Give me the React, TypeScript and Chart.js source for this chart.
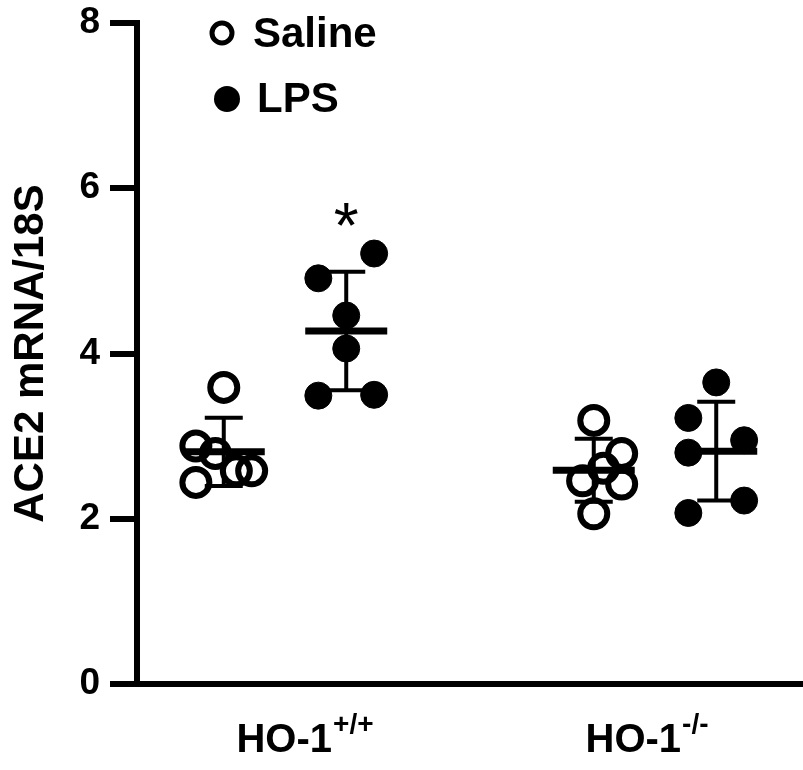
import React, { useEffect, useRef } from "react";
import { Chart, registerables } from "chart.js";

Chart.register(...registerables);

// ---- data ----
const groupNames = ["HO-1", "HO-1"];
const groupSuperscripts = ["+/+", "-/-"];
const seriesNames = ["Saline", "LPS"];
const salineValues = [
  [3.59, 2.88, 2.79, 2.58, 2.58, 2.44],
  [3.19, 2.79, 2.61, 2.46, 2.42, 2.06],
];
const lpsValues = [
  [5.21, 4.91, 4.46, 4.06, 3.49, 3.5],
  [3.65, 3.22, 2.95, 2.8, 2.22, 2.07],
];
// scatter column of each point (-1 left, 0 centre, 1 right)
const salineJitter = [
  [0, -1, -0.3, 0.45, 1, -1],
  [0, 1, 0.35, -0.4, 1, 0],
];
const lpsJitter = [
  [1, -1, 0, 0, -1, 1],
  [0, -1, 1, -1, 1, -1],
];
const yTicks = [0, 2, 4, 6, 8];
const yTitle = "ACE2 mRNA/18S";
const significance = [{ group: 0, series: 1, label: "*", y: 5.73 }];

const FONT = 'Arial, "Liberation Sans", Helvetica, sans-serif';
const SERIES_OFFSET = [-0.1655, 0.1655];
const JITTER_UNIT = 0.0754;

const allValues = [salineValues, lpsValues];
const allJitter = [salineJitter, lpsJitter];

function mean(a: number[]) {
  return a.reduce((s, v) => s + v, 0) / a.length;
}
function sd(a: number[]) {
  const m = mean(a);
  return Math.sqrt(a.reduce((s, v) => s + (v - m) * (v - m), 0) / (a.length - 1));
}

function points(s: number) {
  return allValues[s].flatMap((arr, g) =>
    arr.map((v, i) => ({
      x: g + 1 + SERIES_OFFSET[s] + allJitter[s][g][i] * JITTER_UNIT,
      y: v,
    }))
  );
}

const overlayPlugin = {
  id: "overlay",
  afterDatasetsDraw(chart: any) {
    const { ctx } = chart;
    const xs = chart.scales.x;
    const ys = chart.scales.y;
    ctx.save();
    ctx.strokeStyle = "#000";
    ctx.lineCap = "butt";
    // mean ± SD
    for (let s = 0; s < 2; s++) {
      allValues[s].forEach((arr, g) => {
        const m = mean(arr);
        const d = sd(arr);
        const cx = xs.getPixelForValue(g + 1 + SERIES_OFFSET[s]);
        const yM = ys.getPixelForValue(m);
        const yT = ys.getPixelForValue(m + d);
        const yB = ys.getPixelForValue(m - d);
        ctx.lineWidth = 4;
        ctx.beginPath();
        ctx.moveTo(cx, yT);
        ctx.lineTo(cx, yB);
        ctx.moveTo(cx - 19, yT);
        ctx.lineTo(cx + 19, yT);
        ctx.moveTo(cx - 19, yB);
        ctx.lineTo(cx + 19, yB);
        ctx.stroke();
        ctx.lineWidth = 7;
        ctx.beginPath();
        ctx.moveTo(cx - 41, yM);
        ctx.lineTo(cx + 41, yM);
        ctx.stroke();
      });
    }
    ctx.restore();
  },
  afterDraw(chart: any) {
    const { ctx } = chart;
    const xs = chart.scales.x;
    const ys = chart.scales.y;
    ctx.save();
    ctx.fillStyle = "#000";
    ctx.strokeStyle = "#000";
    // significance marks
    significance.forEach((sg) => {
      const cx = xs.getPixelForValue(sg.group + 1 + SERIES_OFFSET[sg.series]);
      const cy = ys.getPixelForValue(sg.y);
      const size = 64;
      ctx.font = `${size}px ${FONT}`;
      ctx.textAlign = "center";
      ctx.textBaseline = "alphabetic";
      ctx.fillText(sg.label, cx, cy + 0.58 * size);
    });
    // x category labels with superscripts
    const nudges = [20, -8];
    groupNames.forEach((name, g) => {
      ctx.textBaseline = "alphabetic";
      ctx.textAlign = "left";
      ctx.font = `bold 40px ${FONT}`;
      const w1 = ctx.measureText(name).width;
      ctx.font = `bold 28px ${FONT}`;
      const w2 = ctx.measureText(groupSuperscripts[g]).width;
      const total = w1 + 1 + w2;
      const cx = xs.getPixelForValue(g + 1) + nudges[g];
      const x0 = cx - total / 2;
      ctx.font = `bold 40px ${FONT}`;
      ctx.fillText(name, x0, 752);
      ctx.font = `bold 28px ${FONT}`;
      ctx.fillText(groupSuperscripts[g], x0 + w1 + 1, 733);
    });
    // legend
    ctx.lineWidth = 5;
    ctx.beginPath();
    ctx.arc(222, 33, 10, 0, Math.PI * 2);
    ctx.stroke();
    ctx.beginPath();
    ctx.arc(227, 99, 13, 0, Math.PI * 2);
    ctx.fill();
    ctx.font = `bold 42px ${FONT}`;
    ctx.textAlign = "left";
    ctx.textBaseline = "alphabetic";
    ctx.fillText(seriesNames[0], 253, 47);
    ctx.fillText(seriesNames[1], 257, 112);
    ctx.restore();
  },
};

export default function App() {
  const ref = useRef<HTMLCanvasElement>(null);
  useEffect(() => {
    document.body.style.margin = "0";
    const canvas = ref.current;
    if (!canvas) return;
    const chart = new Chart(canvas, {
      type: "scatter",
      data: {
        datasets: [
          {
            label: seriesNames[0],
            data: points(0),
            pointStyle: "circle",
            pointRadius: 13.5,
            pointBorderWidth: 6,
            pointBorderColor: "#000",
            pointBackgroundColor: "rgba(0,0,0,0)",
          },
          {
            label: seriesNames[1],
            data: points(1),
            pointStyle: "circle",
            pointRadius: 13.5,
            pointBorderWidth: 1,
            pointBorderColor: "#000",
            pointBackgroundColor: "#000",
          },
        ],
      },
      options: {
        animation: false,
        responsive: false,
        events: [],
        layout: { autoPadding: false, padding: { top: 23, right: 0, bottom: 78, left: 0 } },
        plugins: {
          legend: { display: false },
          tooltip: { enabled: false },
        },
        scales: {
          x: {
            type: "linear",
            min: 0.6,
            max: 2.4,
            ticks: { display: false },
            grid: { display: false },
            border: { display: true, width: 6, color: "#000" },
          },
          y: {
            type: "linear",
            min: 0,
            max: 8,
            afterBuildTicks: (scale: any) => {
              scale.ticks = yTicks.map((v) => ({ value: v }));
            },
            afterFit: (scale: any) => {
              scale.width = 137;
              scale.paddingTop = 0;
              scale.paddingBottom = 0;
            },
            ticks: {
              color: "#000",
              padding: 10,
              font: { family: FONT, size: 37, weight: "bold", lineHeight: 1 },
            },
            grid: {
              drawOnChartArea: false,
              drawTicks: true,
              tickLength: 27,
              tickWidth: 6,
              tickColor: "#000",
              lineWidth: 6,
              color: "#000",
            },
            border: { display: true, width: 6, color: "#000" },
            title: {
              display: true,
              text: yTitle,
              color: "#000",
              font: { family: FONT, size: 42, weight: "bold" },
              padding: { top: 6, bottom: 0 },
            },
          },
        },
      },
      plugins: [overlayPlugin],
    });
    return () => chart.destroy();
  }, []);
  return <canvas ref={ref} width={803} height={770} style={{ display: "block" }} />;
}
